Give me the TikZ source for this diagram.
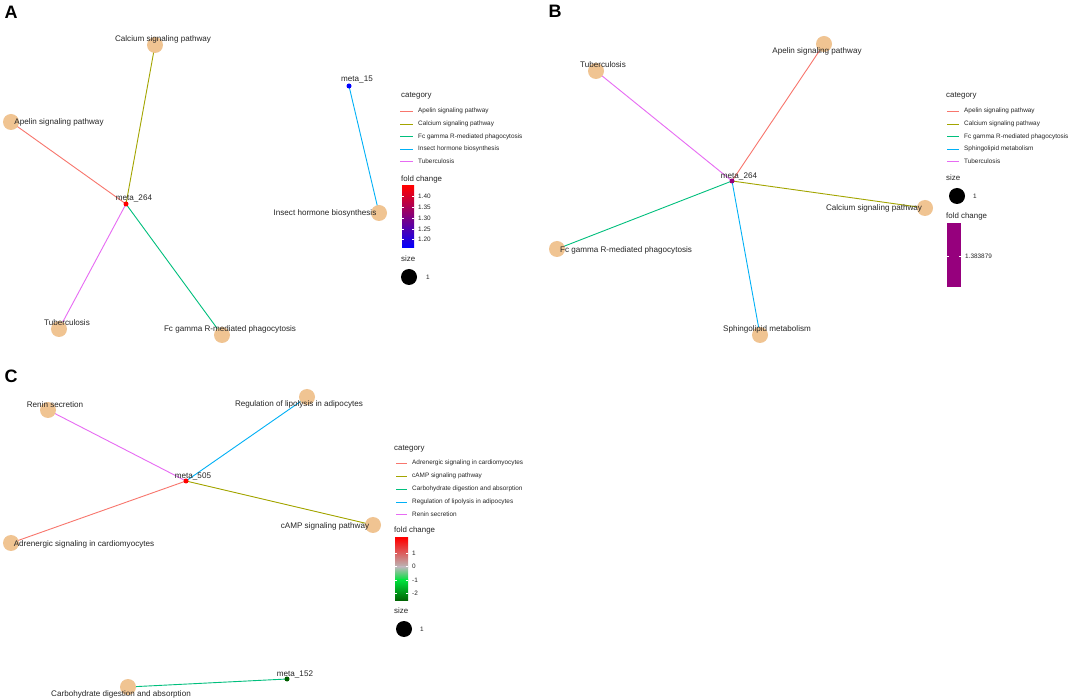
\documentclass[tikz,border=0pt]{standalone}
\usepackage{fontspec}
\setmainfont{Liberation Sans}
\definecolor{cApelin}{HTML}{F8766D}
\definecolor{cCal}{HTML}{A3A500}
\definecolor{cFc}{HTML}{00BF7D}
\definecolor{cIns}{HTML}{00B0F6}
\definecolor{cTub}{HTML}{E76BF3}
\definecolor{nodefill}{RGB}{240,196,146}
\definecolor{mpurple}{RGB}{150,0,125}
\definecolor{mdkgreen}{RGB}{0,95,0}
\definecolor{mgreen}{RGB}{0,225,60}
\definecolor{mgrey}{RGB}{185,185,185}
\begin{document}
\begin{tikzpicture}[x=1pt,y=-1pt,
  pnode/.style={circle,fill=nodefill,inner sep=0pt,minimum size=16pt},
  mnode/.style={circle,inner sep=0pt,minimum size=5pt},
  lbl/.style={font=\fontsize{8.1}{9}\selectfont,text=black!85,inner sep=0pt},
  legtxt/.style={font=\fontsize{6.4}{7}\selectfont,text=black!85,anchor=west,inner sep=0pt},
  legtitle/.style={font=\fontsize{7.9}{9}\selectfont,text=black!85,anchor=west,inner sep=0pt},
  edgeline/.style={line width=0.9pt},
  legline/.style={line width=1.3pt},
  tickw/.style={white,line width=0.35pt},
  panel/.style={font=\fontsize{18}{18}\selectfont\bfseries,anchor=center,inner sep=0pt}]
\useasboundingbox (0,0) rectangle (1072,700);
\fill[white] (0,0) rectangle (1072,700);

% ================= Panel A =================
\node[panel] (PA) at (11,12) {A};
\coordinate (A264) at (126,204);
\coordinate (Acal) at (155,45);
\coordinate (Aape) at (11,122);
\coordinate (Atub) at (59,329);
\coordinate (Afc) at (222,335);
\coordinate (A15) at (349,86);
\coordinate (Ains) at (379,213);
\draw[edgeline,cCal] (A264) -- (Acal);
\draw[edgeline,cApelin] (A264) -- (Aape);
\draw[edgeline,cTub] (A264) -- (Atub);
\draw[edgeline,cFc] (A264) -- (Afc);
\draw[edgeline,cIns] (A15) -- (Ains);
\node[pnode] (AcalN) at (Acal) {};
\node[pnode] (AapeN) at (Aape) {};
\node[pnode] (AtubN) at (Atub) {};
\node[pnode] (AfcN) at (Afc) {};
\node[pnode] (AinsN) at (Ains) {};
\node[mnode,fill=red] (A264N) at (A264) {};
\node[mnode,fill=blue] (A15N) at (A15) {};
\node[lbl] (AcalT) at (163,39) {Calcium signaling pathway};
\node[lbl] (AapeT) at (59,122) {Apelin signaling pathway};
\node[lbl] (AtubT) at (67,323) {Tuberculosis};
\node[lbl] (AfcT) at (230,329) {Fc gamma R-mediated phagocytosis};
\node[lbl] (AinsT) at (325,213) {Insect hormone biosynthesis};
\node[lbl] (A264T) at (134,198) {meta\_264};
\node[lbl] (A15T) at (357,80) {meta\_15};

% legend A
\node[legtitle] (AcatT) at (401,96) {category};
\draw[legline,cApelin] (400,111.5) -- (413,111.5);
\node[legtxt] (AL1) at (418,111) {Apelin signaling pathway};
\draw[legline,cCal] (400,124.5) -- (413,124.5);
\node[legtxt] (AL2) at (418,124) {Calcium signaling pathway};
\draw[legline,cFc] (400,136.5) -- (413,136.5);
\node[legtxt] (AL3) at (418,136.5) {Fc gamma R-mediated phagocytosis};
\draw[legline,cIns] (400,149.5) -- (413,149.5);
\node[legtxt] (AL4) at (418,149) {Insect hormone biosynthesis};
\draw[legline,cTub] (400,161.5) -- (413,161.5);
\node[legtxt] (AL5) at (418,161) {Tuberculosis};
\node[legtitle] (AfcTitle) at (401,179) {fold change};
\shade[bottom color=blue,top color=red] (402,186) rectangle (414,248);
\foreach \yy/\lab in {196/1.40,207/1.35,218/1.30,229/1.25,239/1.20}{
  \draw[tickw] (402,\yy) -- (404,\yy) (412,\yy) -- (414,\yy);
  \node[legtxt] at (418,\yy) {\lab};
}
\node[legtitle] (AsizeT) at (401,259) {size};
\node[circle,fill=black,inner sep=0pt,minimum size=16pt] (AsizeC) at (409,277) {};
\node[legtxt] (Asize1) at (426,277) {1};

% ================= Panel B =================
\node[panel] (PB) at (555,11) {B};
\coordinate (B264) at (732,181);
\coordinate (Btub) at (596,71);
\coordinate (Bape) at (824,44);
\coordinate (Bcal) at (925,208);
\coordinate (Bfc) at (557,249);
\coordinate (Bsph) at (760,335);
\draw[edgeline,cTub] (B264) -- (Btub);
\draw[edgeline,cApelin] (B264) -- (Bape);
\draw[edgeline,cCal] (B264) -- (Bcal);
\draw[edgeline,cFc] (B264) -- (Bfc);
\draw[edgeline,cIns] (B264) -- (Bsph);
\node[pnode] (BtubN) at (Btub) {};
\node[pnode] (BapeN) at (Bape) {};
\node[pnode] (BcalN) at (Bcal) {};
\node[pnode] (BfcN) at (Bfc) {};
\node[pnode] (BsphN) at (Bsph) {};
\node[mnode,fill=mpurple] (B264N) at (B264) {};
\node[lbl] (BtubT) at (603,65) {Tuberculosis};
\node[lbl] (BapeT) at (817,51) {Apelin signaling pathway};
\node[lbl] (BcalT) at (874,208) {Calcium signaling pathway};
\node[lbl] (BfcT) at (626,250) {Fc gamma R-mediated phagocytosis};
\node[lbl] (BsphT) at (767,329) {Sphingolipid metabolism};
\node[lbl] (B264T) at (739,176) {meta\_264};

% legend B
\node[legtitle] (BcatT) at (946,96) {category};
\draw[legline,cApelin] (947,111.5) -- (959,111.5);
\node[legtxt] (BL1) at (964,111) {Apelin signaling pathway};
\draw[legline,cCal] (947,124.5) -- (959,124.5);
\node[legtxt] (BL2) at (964,124) {Calcium signaling pathway};
\draw[legline,cFc] (947,136.5) -- (959,136.5);
\node[legtxt] (BL3) at (964,136.5) {Fc gamma R-mediated phagocytosis};
\draw[legline,cIns] (947,149.5) -- (959,149.5);
\node[legtxt] (BL4) at (964,149) {Sphingolipid metabolism};
\draw[legline,cTub] (947,161.5) -- (959,161.5);
\node[legtxt] (BL5) at (964,161) {Tuberculosis};
\node[legtitle] (BsizeT) at (946,178) {size};
\node[circle,fill=black,inner sep=0pt,minimum size=16pt] (BsizeC) at (957,196) {};
\node[legtxt] (Bsize1) at (973,196) {1};
\node[legtitle] (BfcTitle) at (946,216) {fold change};
\fill[mpurple] (947,223) rectangle (961,287);
\draw[tickw] (947,256) -- (949,256) (959,256) -- (961,256);
\node[legtxt] (Bfcv) at (965,256) {1.383879};

% ================= Panel C =================
\node[panel] (PC) at (11,376) {C};
\coordinate (C505) at (186,481);
\coordinate (Cren) at (48,410);
\coordinate (Creg) at (307,397);
\coordinate (Ccamp) at (373,525);
\coordinate (Cadr) at (11,543);
\coordinate (C152) at (287,679);
\coordinate (Ccarb) at (128,687);
\draw[edgeline,cTub] (C505) -- (Cren);
\draw[edgeline,cIns] (C505) -- (Creg);
\draw[edgeline,cCal] (C505) -- (Ccamp);
\draw[edgeline,cApelin] (C505) -- (Cadr);
\draw[edgeline,cFc] (C152) -- (Ccarb);
\node[pnode] (CrenN) at (Cren) {};
\node[pnode] (CregN) at (Creg) {};
\node[pnode] (CcampN) at (Ccamp) {};
\node[pnode] (CadrN) at (Cadr) {};
\node[pnode] (CcarbN) at (Ccarb) {};
\node[mnode,fill=red] (C505N) at (C505) {};
\node[mnode,fill=mdkgreen] (C152N) at (C152) {};
\node[lbl] (CrenT) at (55,405) {Renin secretion};
\node[lbl] (CregT) at (299,404) {Regulation of lipolysis in adipocytes};
\node[lbl] (CcampT) at (325,526) {cAMP signaling pathway};
\node[lbl] (CadrT) at (84,544) {Adrenergic signaling in cardiomyocytes};
\node[lbl] (CcarbT) at (121,694) {Carbohydrate digestion and absorption};
\node[lbl] (C505T) at (193,476) {meta\_505};
\node[lbl] (C152T) at (295,674) {meta\_152};

% legend C
\node[legtitle] (CcatT) at (394,449) {category};
\draw[legline,cApelin] (396,463.5) -- (407,463.5);
\node[legtxt] (CL1) at (412,463) {Adrenergic signaling in cardiomyocytes};
\draw[legline,cCal] (396,476.5) -- (407,476.5);
\node[legtxt] (CL2) at (412,476) {cAMP signaling pathway};
\draw[legline,cFc] (396,489.5) -- (407,489.5);
\node[legtxt] (CL3) at (412,489) {Carbohydrate digestion and absorption};
\draw[legline,cIns] (396,502.5) -- (407,502.5);
\node[legtxt] (CL4) at (412,502) {Regulation of lipolysis in adipocytes};
\draw[legline,cTub] (396,514.5) -- (407,514.5);
\node[legtxt] (CL5) at (412,514) {Renin secretion};
\node[legtitle] (CfcTitle) at (394,530) {fold change};
\shade[top color=red,bottom color=mgrey] (395,538) rectangle (408,567.2);
\shade[top color=mgrey,bottom color=mgreen] (395,567) rectangle (408,580.2);
\shade[top color=mgreen,bottom color=mdkgreen] (395,580) rectangle (408,601);
\foreach \yy/\lab in {553/1,566/0,580/-1,593/-2}{
  \draw[tickw] (395,\yy) -- (397,\yy) (406,\yy) -- (408,\yy);
  \node[legtxt] at (412,\yy) {\lab};
}
\node[legtitle] (CsizeT) at (394,611) {size};
\node[circle,fill=black,inner sep=0pt,minimum size=16pt] (CsizeC) at (404,629) {};
\node[legtxt] (Csize1) at (420,629) {1};
\end{tikzpicture}
\end{document}
